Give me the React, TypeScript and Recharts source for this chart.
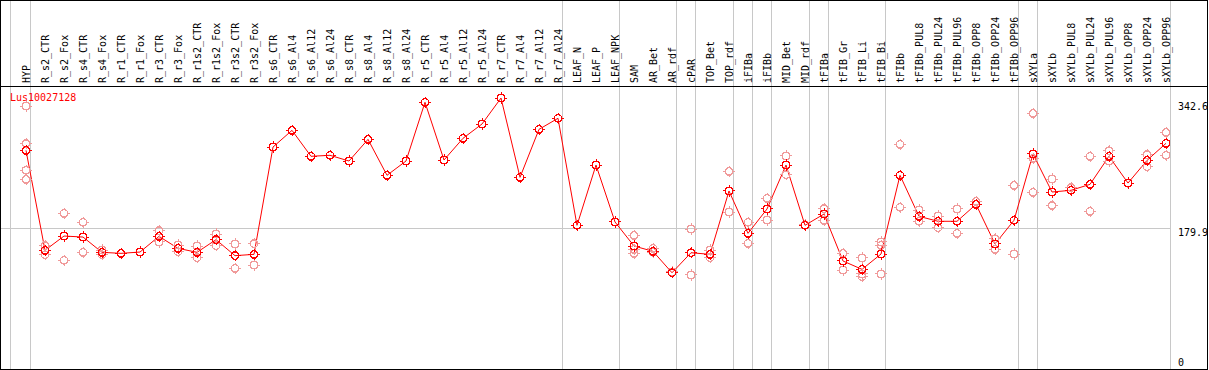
import { ComposedChart, Line, ReferenceLine, Scatter, XAxis, YAxis } from "recharts";

const geneId = "Lus10027128";

const categories = [
  "HYP",
  "R_s2_CTR", "R_s2_Fox", "R_s4_CTR", "R_s4_Fox", "R_r1_CTR", "R_r1_Fox", "R_r3_CTR", "R_r3_Fox",
  "R_r1s2_CTR", "R_r1s2_Fox", "R_r3s2_CTR", "R_r3s2_Fox",
  "R_s6_CTR", "R_s6_Al4", "R_s6_Al12", "R_s6_Al24", "R_s8_CTR", "R_s8_Al4", "R_s8_Al12", "R_s8_Al24",
  "R_r5_CTR", "R_r5_Al4", "R_r5_Al12", "R_r5_Al24", "R_r7_CTR", "R_r7_Al4", "R_r7_Al12", "R_r7_Al24",
  "LEAF_N", "LEAF_P", "LEAF_NPK",
  "SAM", "AR_Bet", "AR_rdf", "cPAR", "TOP_Bet", "TOP_rdf", "iFIBa", "iFIBb", "MID_Bet", "MID_rdf",
  "tFIBa", "tFIB_Gr", "tFIB_Li", "tFIB_Bi",
  "tFIBb", "tFIBb_PUL8", "tFIBb_PUL24", "tFIBb_PUL96", "tFIBb_OPP8", "tFIBb_OPP24", "tFIBb_OPP96",
  "sXYLa", "sXYLb", "sXYLb_PUL8", "sXYLb_PUL24", "sXYLb_PUL96", "sXYLb_OPP8", "sXYLb_OPP24", "sXYLb_OPP96",
];

const means = [
  280.4,
  151.0, 169.5, 168.2, 148.4, 147.1, 148.8, 169.1, 153.6,
  148.4, 164.8, 144.1, 145.8,
  284.7, 306.3, 272.7, 274.0, 266.6, 294.6, 248.1, 266.6,
  342.6, 267.9, 296.0, 314.5, 348.1, 245.5, 307.6, 321.9,
  183.4, 261.4, 187.7,
  156.6, 149.7, 122.0, 147.9, 145.8, 227.8, 173.0, 204.5, 261.4, 183.4,
  198.0, 137.2, 126.4, 146.2,
  248.1, 195.0, 188.6, 188.6, 210.5, 159.2, 189.9,
  275.7, 226.5, 228.7, 236.4, 272.7, 238.1, 267.4, 289.5,
];

// individual samples per category (empty where only the mean is shown)
const replicates: number[][] = [
  [337.8, 289.2, 254.7, 242.8],
  [157.0, 145.3], [198.9, 138.1], [187.3, 148.4], [151.4, 145.3], [], [], [176.4, 161.8], [157.9, 149.2],
  [156.6, 141.5], [172.1, 157.0], [159.2, 127.7], [159.6, 132.0],
  [], [], [], [], [], [], [], [],
  [], [], [], [], [], [], [], [],
  [], [], [],
  [170.4, 147.1, 152.3], [153.6, 148.5], [123.0], [178.6, 119.1], [151.4, 141.5], [253.2, 200.6],
  [187.3, 160.1], [218.3, 190.2], [273.1, 248.9], [184.0],
  [204.9, 189.8], [147.1, 125.5], [141.1, 120.4, 116.9], [161.8, 157.5, 120.4],
  [288.2, 206.7], [203.2, 188.6], [195.4, 180.3], [204.5, 173.0], [214.4], [166.0, 152.3], [235.1, 146.2],
  [328.3, 270.1, 226.1], [243.3, 209.0], [232.1], [272.7, 201.5], [279.9, 266.6], [238.0], [274.8, 259.2], [303.7, 274.0],
];

const yTicks = [0, 179.9, 342.6];

// a gray divider is drawn after each of these
const groupEnds = [
  "HYP", "R_r7_Al24", "LEAF_NPK", "AR_rdf", "cPAR", "TOP_rdf", "iFIBa", "iFIBb",
  "MID_rdf", "tFIBa", "tFIB_Bi", "tFIBb_OPP96", "sXYLa", "sXYLb_OPP96",
];

const FONT = "'DejaVu Sans Mono', monospace";
const RED = "#ff0000";
const PINK = "#f09a9a";
const GRID = "#c8c8c8";

const rows = categories.map((name, i) => ({ idx: i, name, mean: means[i] }));
const repPoints = replicates.flatMap((vals, i) => vals.map((v) => ({ idx: i, rep: v })));
const dividers = [-0.79, ...groupEnds.map((n) => categories.indexOf(n) + 0.24)];

function Ring({ cx, cy, color }: { cx?: number; cy?: number; color: string }) {
  if (cx == null || cy == null) return null;
  const r = 3.75;
  return (
    <g stroke={color} fill="none" shapeRendering="crispEdges">
      <circle cx={cx} cy={cy} r={r} strokeWidth={1.5} />
      <path
        d={`M${cx} ${cy - r - 1.8}v1.6M${cx} ${cy + r + 0.2}v1.6M${cx - r - 1.8} ${cy}h1.6M${cx + r + 0.2} ${cy}h1.6`}
        strokeWidth={1}
      />
    </g>
  );
}

function CategoryTick({ x, payload }: any) {
  return (
    <text
      transform={`translate(${x + 4},83) rotate(-90)`}
      fontFamily={FONT}
      fontSize={10}
      fill="#000"
    >
      {categories[payload.value]}
    </text>
  );
}

function ValueTick({ x, y, payload }: any) {
  const dy = payload.value === 0 ? -1 : 8;
  return (
    <text x={x} y={y + dy} fontFamily={FONT} fontSize={10} fill="#000" textAnchor="start">
      {payload.value}
    </text>
  );
}

export default function App() {
  return (
    <div style={{ position: "relative", width: 1209, height: 370 }}>
      <style>{`body{margin:0}`}</style>
      <ComposedChart width={1209} height={370} data={rows} margin={{ top: 0, right: 0, bottom: 3, left: 1 }}>
        <XAxis
          type="number"
          dataKey="idx"
          orientation="top"
          height={87}
          domain={[-1.316, 60.21]}
          ticks={categories.map((_, i) => i)}
          interval={0}
          allowDataOverflow
          axisLine={false}
          tickLine={false}
          tick={<CategoryTick />}
        />
        <YAxis
          orientation="right"
          width={39}
          domain={[0, 362.4]}
          ticks={yTicks}
          interval={0}
          allowDataOverflow
          axisLine={false}
          tickLine={false}
          tickSize={0}
          tickMargin={8}
          tick={<ValueTick />}
        />
        <ReferenceLine y={179.9} stroke={GRID} strokeWidth={1} shapeRendering="crispEdges" />
        {dividers.map((d) => (
          <ReferenceLine
            key={d}
            segment={[{ x: d, y: -4 }, { x: d, y: 476 }]}
            ifOverflow="visible"
            stroke={GRID}
            strokeWidth={1}
            shapeRendering="crispEdges"
          />
        ))}
        <Scatter
          data={repPoints}
          dataKey="rep"
          isAnimationActive={false}
          shape={(p: any) => <Ring cx={p.cx} cy={p.cy} color={PINK} />}
        />
        <Line
          dataKey="mean"
          stroke={RED}
          strokeWidth={1}
          isAnimationActive={false}
          dot={(p: any) => <Ring key={`m${p.index}`} cx={p.cx} cy={p.cy} color={RED} />}
          activeDot={false}
        />
      </ComposedChart>
      <svg width={1209} height={370} style={{ position: "absolute", left: 0, top: 0, pointerEvents: "none" }}>
        <rect x={0.5} y={0.5} width={1207} height={369} fill="none" stroke="#000" />
        <line x1={0} y1={86.5} x2={1208} y2={86.5} stroke="#000" />
        <text x={10} y={101} fill={RED} fontFamily={FONT} fontSize={10}>
          {geneId}
        </text>
      </svg>
    </div>
  );
}
